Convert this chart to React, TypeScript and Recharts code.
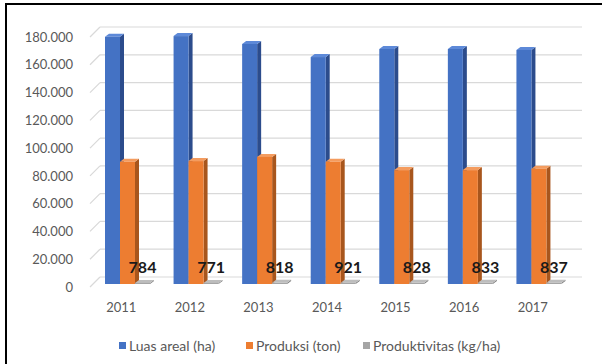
import React from "react";
import { BarChart, Bar, XAxis, YAxis, CartesianGrid, LabelList } from "recharts";

const years = ["2011", "2012", "2013", "2014", "2015", "2016", "2017"];
const luasAreal = [178000, 178500, 172800, 163400, 169200, 169200, 168500];
const produksi = [88000, 88500, 91500, 88000, 82000, 82000, 83000];
const produktivitas = [784, 771, 818, 921, 828, 833, 837];
const yTicks = [0, 20000, 40000, 60000, 80000, 100000, 120000, 140000, 160000, 180000];

const series = [
  { key: "luas", name: "Luas areal (ha)", front: "#4472C4", side: "#2c4c8c", top: "#5d89d8" },
  { key: "prod", name: "Produksi (ton)", front: "#ED7D31", side: "#a8561d", top: "#f49c5f" },
  { key: "pktv", name: "Produktivitas (kg/ha)", front: "#A5A5A5", side: "#7b7b7b", top: "#bdbdbd" },
];

// left edge of each legend entry
const legendLeft = [119, 246, 363];

const data = years.map((y, i) => ({
  year: y,
  luas: luasAreal[i],
  prod: produksi[i],
  pktv: produktivitas[i],
}));

const FONT = "Lato, 'Liberation Sans', sans-serif";
const TXT = "#595959";

function fmtThousands(v: number) {
  return v.toLocaleString("de-DE");
}

// pseudo-3D column: front face + right side + top face
function Bar3D(props: any) {
  const { x, y, width, height, front, side, top } = props;
  if (x == null || y == null) return null;
  const lift = 3;
  const dx = 4;
  const dy = 3;
  const yy = y - lift;
  const h = Math.max(height, 1);
  return (
    <g>
      <polygon
        points={`${x + width},${yy} ${x + width + dx},${yy - dy} ${x + width + dx},${yy + h - dy} ${x + width},${yy + h}`}
        fill={side}
      />
      <polygon
        points={`${x},${yy} ${x + dx},${yy - dy} ${x + width + dx},${yy - dy} ${x + width},${yy}`}
        fill={top}
      />
      <rect x={x} y={yy} width={width} height={h} fill={front} />
    </g>
  );
}

// back-wall gridline with the short diagonal from the axis
function GridLine3D(props: any) {
  const { x1, x2, y1 } = props;
  const back = 10;
  return (
    <g key={props.key}>
      <line x1={x1 - 3} y1={y1} x2={x1 + 7} y2={y1 - back} stroke="#d9d9d9" strokeWidth={1.2} />
      <line x1={x1 + 7} y1={y1 - back} x2={x2 + 9} y2={y1 - back} stroke="#d9d9d9" strokeWidth={1.2} />
    </g>
  );
}

export default function App() {
  return (
    <div
      style={{
        position: "absolute",
        left: 0,
        top: 0,
        width: 602,
        height: 364,
        background: "#fff",
        overflow: "hidden",
        fontFamily: FONT,
      }}
    >
      <div
        style={{
          position: "absolute",
          left: 5,
          top: 3,
          width: 610,
          height: 370,
          borderTop: "2px solid #000",
          borderLeft: "2px solid #000",
        }}
      />
      <BarChart
        width={602}
        height={364}
        data={data}
        margin={{ top: 37, right: 29, left: 0, bottom: 47 }}
        barGap={0}
        barSize={15}
        style={{ position: "absolute", left: 0, top: 0 }}
      >
        <CartesianGrid vertical={false} horizontal={(p: any) => <GridLine3D {...p} />} />
        <XAxis
          dataKey="year"
          axisLine={false}
          tickLine={false}
          tickMargin={10}
          height={30}
          tick={{ fill: TXT, fontSize: 13, fontFamily: FONT, dx: -6 }}
        />
        <YAxis
          width={93}
          domain={[0, 180000]}
          ticks={yTicks}
          axisLine={false}
          tickLine={false}
          tickMargin={14}
          tickFormatter={fmtThousands}
          tick={{ fill: TXT, fontSize: 13, fontFamily: FONT }}
        />
        {series.map((s) => (
          <Bar
            key={s.key}
            dataKey={s.key}
            name={s.name}
            fill={s.front}
            isAnimationActive={false}
            shape={(p: any) => <Bar3D {...p} front={s.front} side={s.side} top={s.top} />}
          >
            {s.key === "pktv" && (
              <LabelList
                dataKey="pktv"
                position="top"
                offset={13}
                fill="#1a1a1a"
                fontSize={16}
                fontWeight={700}
                fontFamily={FONT}
              />
            )}
          </Bar>
        ))}
      </BarChart>
      {series.map((s, i) => (
        <div
          key={s.key}
          style={{
            position: "absolute",
            left: legendLeft[i],
            top: 337,
            display: "flex",
            alignItems: "center",
            fontSize: 14,
            color: TXT,
            whiteSpace: "nowrap",
          }}
        >
          <span style={{ display: "inline-block", width: 7, height: 7, background: s.front, marginRight: 3 }} />
          <span>{s.name}</span>
        </div>
      ))}
    </div>
  );
}
